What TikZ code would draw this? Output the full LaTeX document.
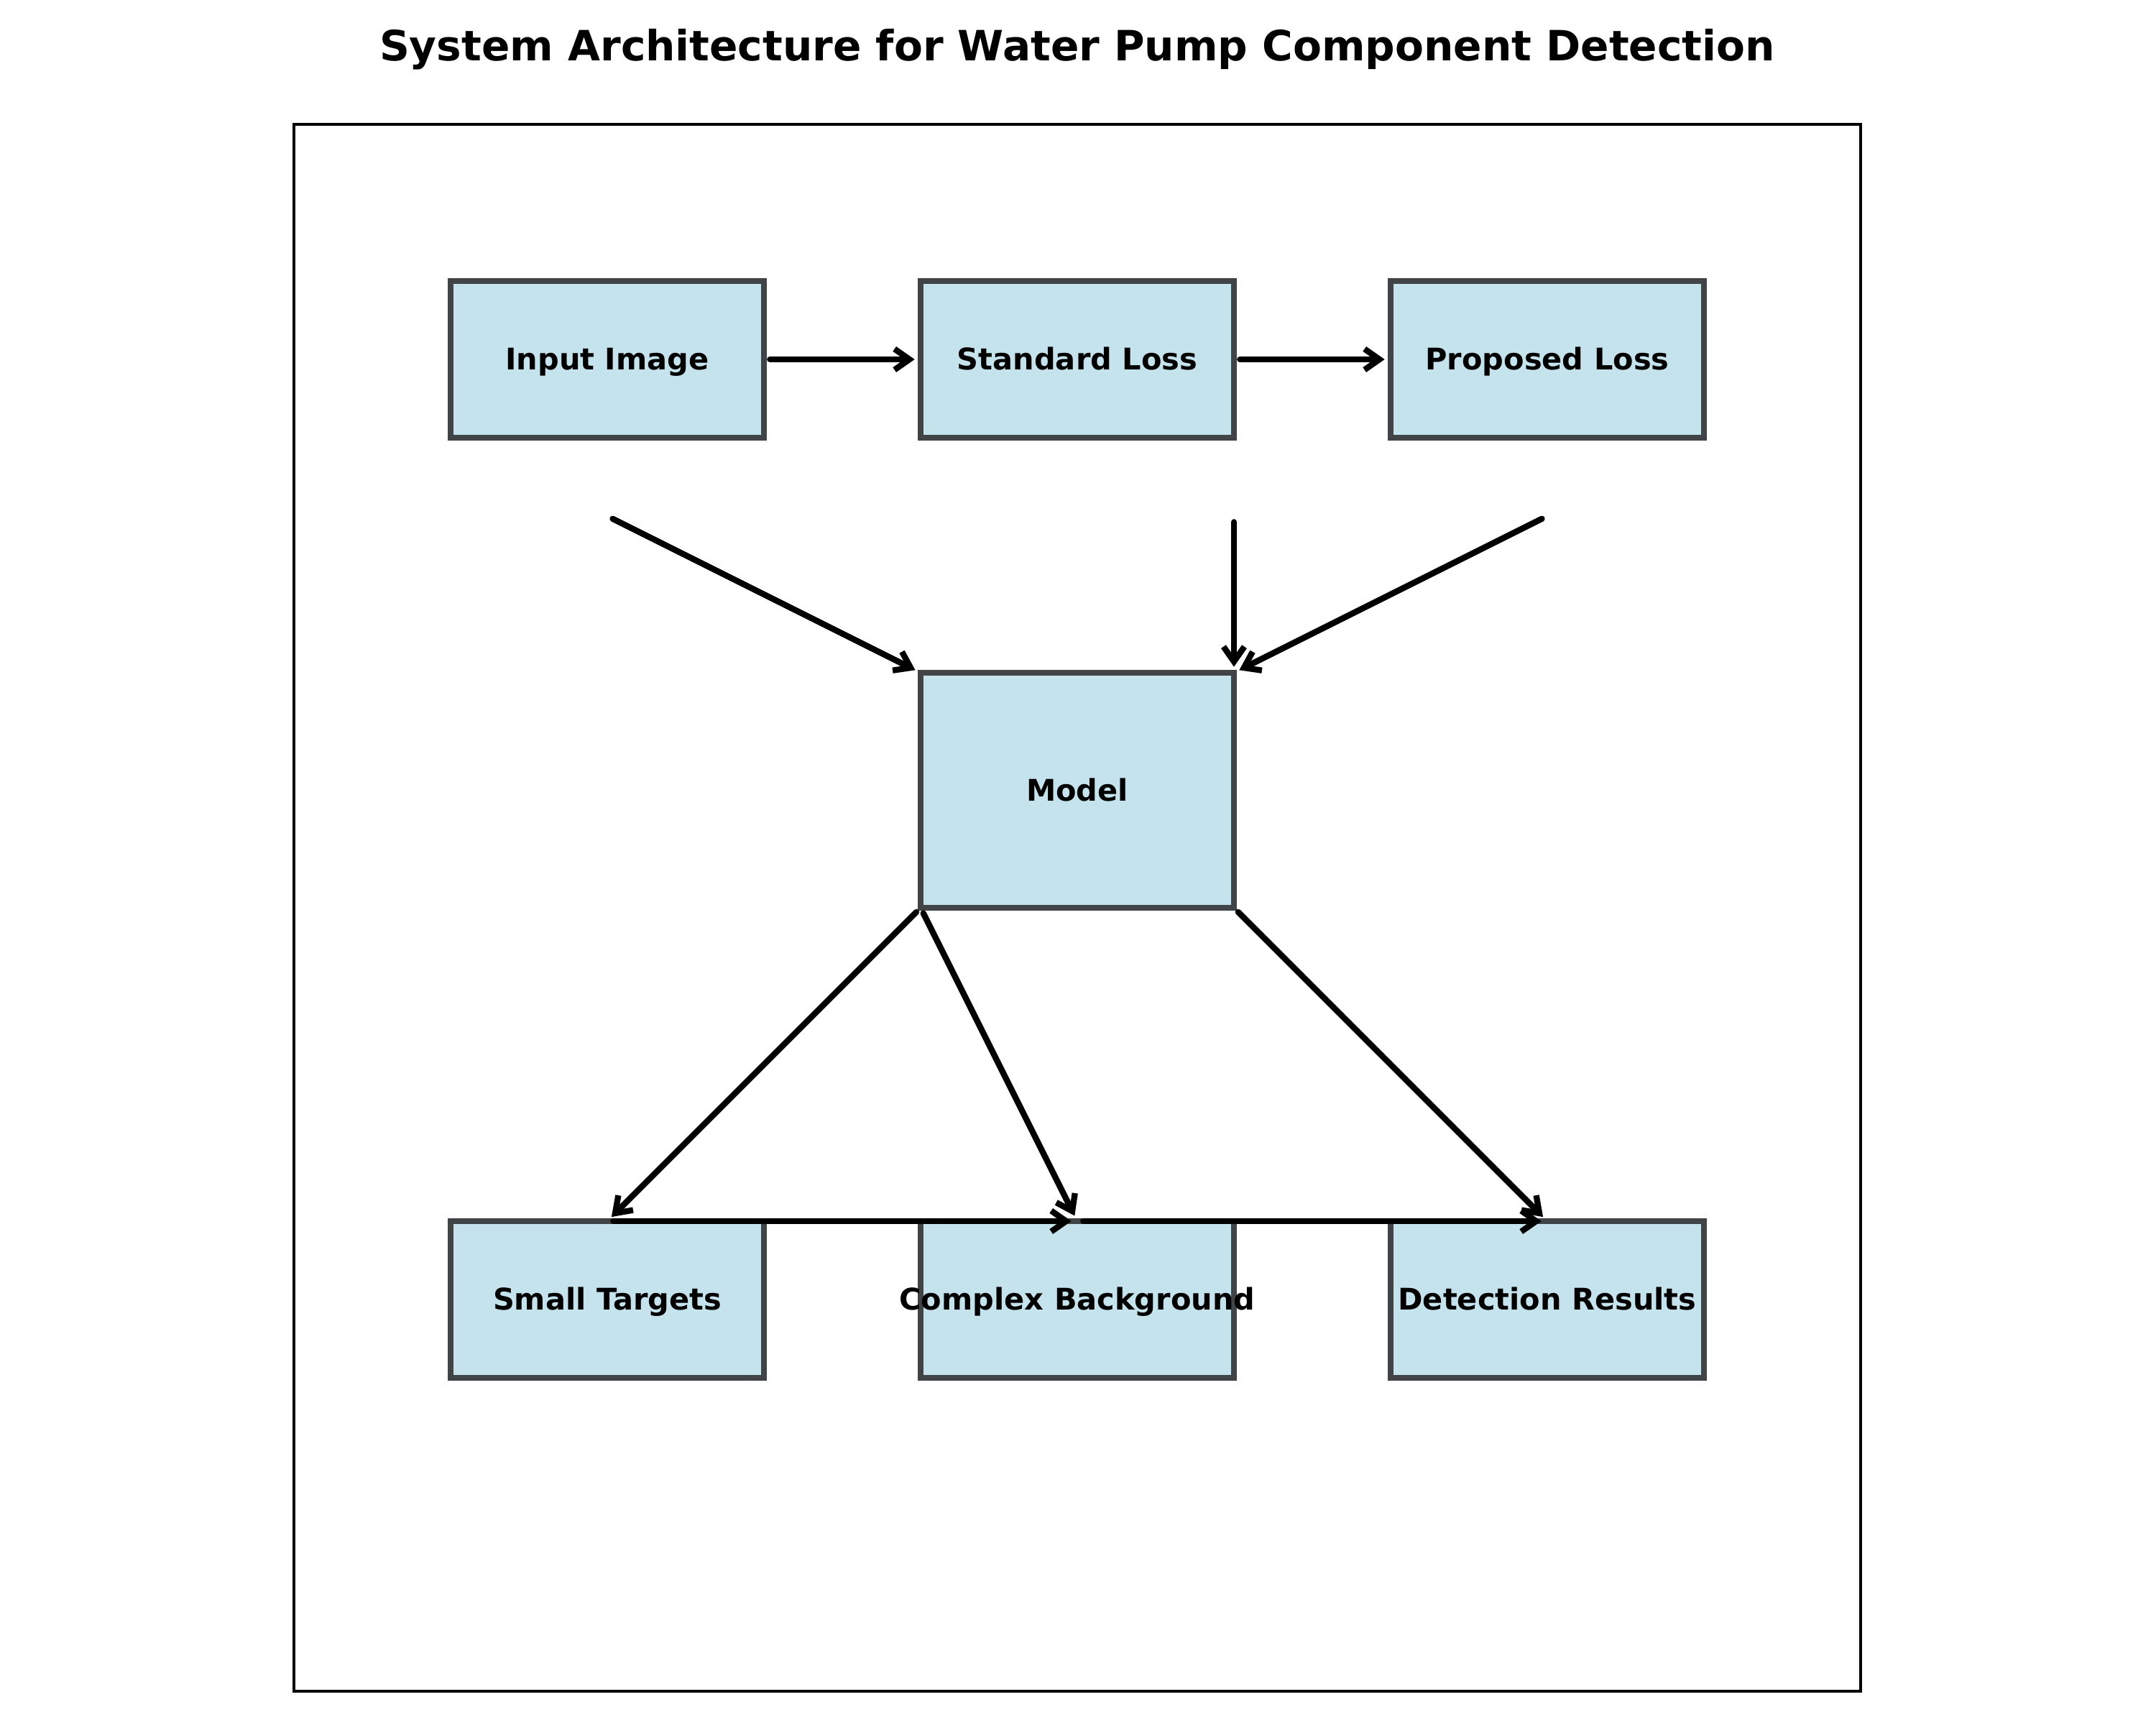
\documentclass[tikz,border=0pt]{standalone}
\usepackage{fontspec}
\setmainfont{DejaVu Sans}
\usetikzlibrary{arrows.meta}
\definecolor{boxfill}{RGB}{197,227,236}
\definecolor{boxedge}{RGB}{64,68,70}

\begin{document}
\begin{tikzpicture}[x=1.8457cm,y=1.8457cm,
  block/.style={draw=boxedge,fill=boxfill,line width=2pt,minimum width=3.6914cm,
    minimum height=1.8457cm,inner sep=0pt,outer sep=0pt,text height=0.86em,text depth=0.14em,
    font=\fontsize{10}{12}\selectfont\bfseries},
  flow/.style={-{Straight Barb[length=5pt,width=7pt]},line width=2pt,line cap=round,
    shorten <=2pt,shorten >=2pt}]
\useasboundingbox (-3.4629cm,-0.3979cm) rectangle ++(25.4cm,20.32cm);
\draw[line width=0.8pt] (0,0) rectangle (10,10);
\node[font=\fontsize{14}{17}\selectfont\bfseries] (title) at (5,10.48)
  {System Architecture for Water Pump Component Detection};
\node[block] (input) at (2,8.5) {Input Image};
\node[block] (stdloss) at (5,8.5) {Standard Loss};
\node[block] (proploss) at (8,8.5) {Proposed Loss};
\node[block,minimum height=2.7686cm] (model) at (5,5.75) {Model};
\node[block] (small) at (2,2.5) {Small Targets};
\node[block] (complexbg) at (5,2.5) {\makebox[0pt]{Complex Background}};
\node[block] (results) at (8,2.5) {Detection Results};
\coordinate (inputlow) at (2,7.5);
\coordinate (stdlow) at (6,7.5);
\coordinate (proplow) at (8,7.5);
\draw[flow] (input) -- (stdloss);
\draw[flow] (stdloss) -- (proploss);
\draw[flow] (inputlow) -- (model.north west);
\draw[flow] (stdlow) -- (model.north east);
\draw[flow] (proplow) -- (model.north east);
\draw[flow] (model.south west) -- (small.north);
\draw[flow] (model.south west) -- (complexbg.north);
\draw[flow] (model.south east) -- (results.north);
\draw[flow] (small.north) -- (complexbg.north);
\draw[flow] (complexbg.north) -- (results.north);
\end{tikzpicture}
\end{document}
